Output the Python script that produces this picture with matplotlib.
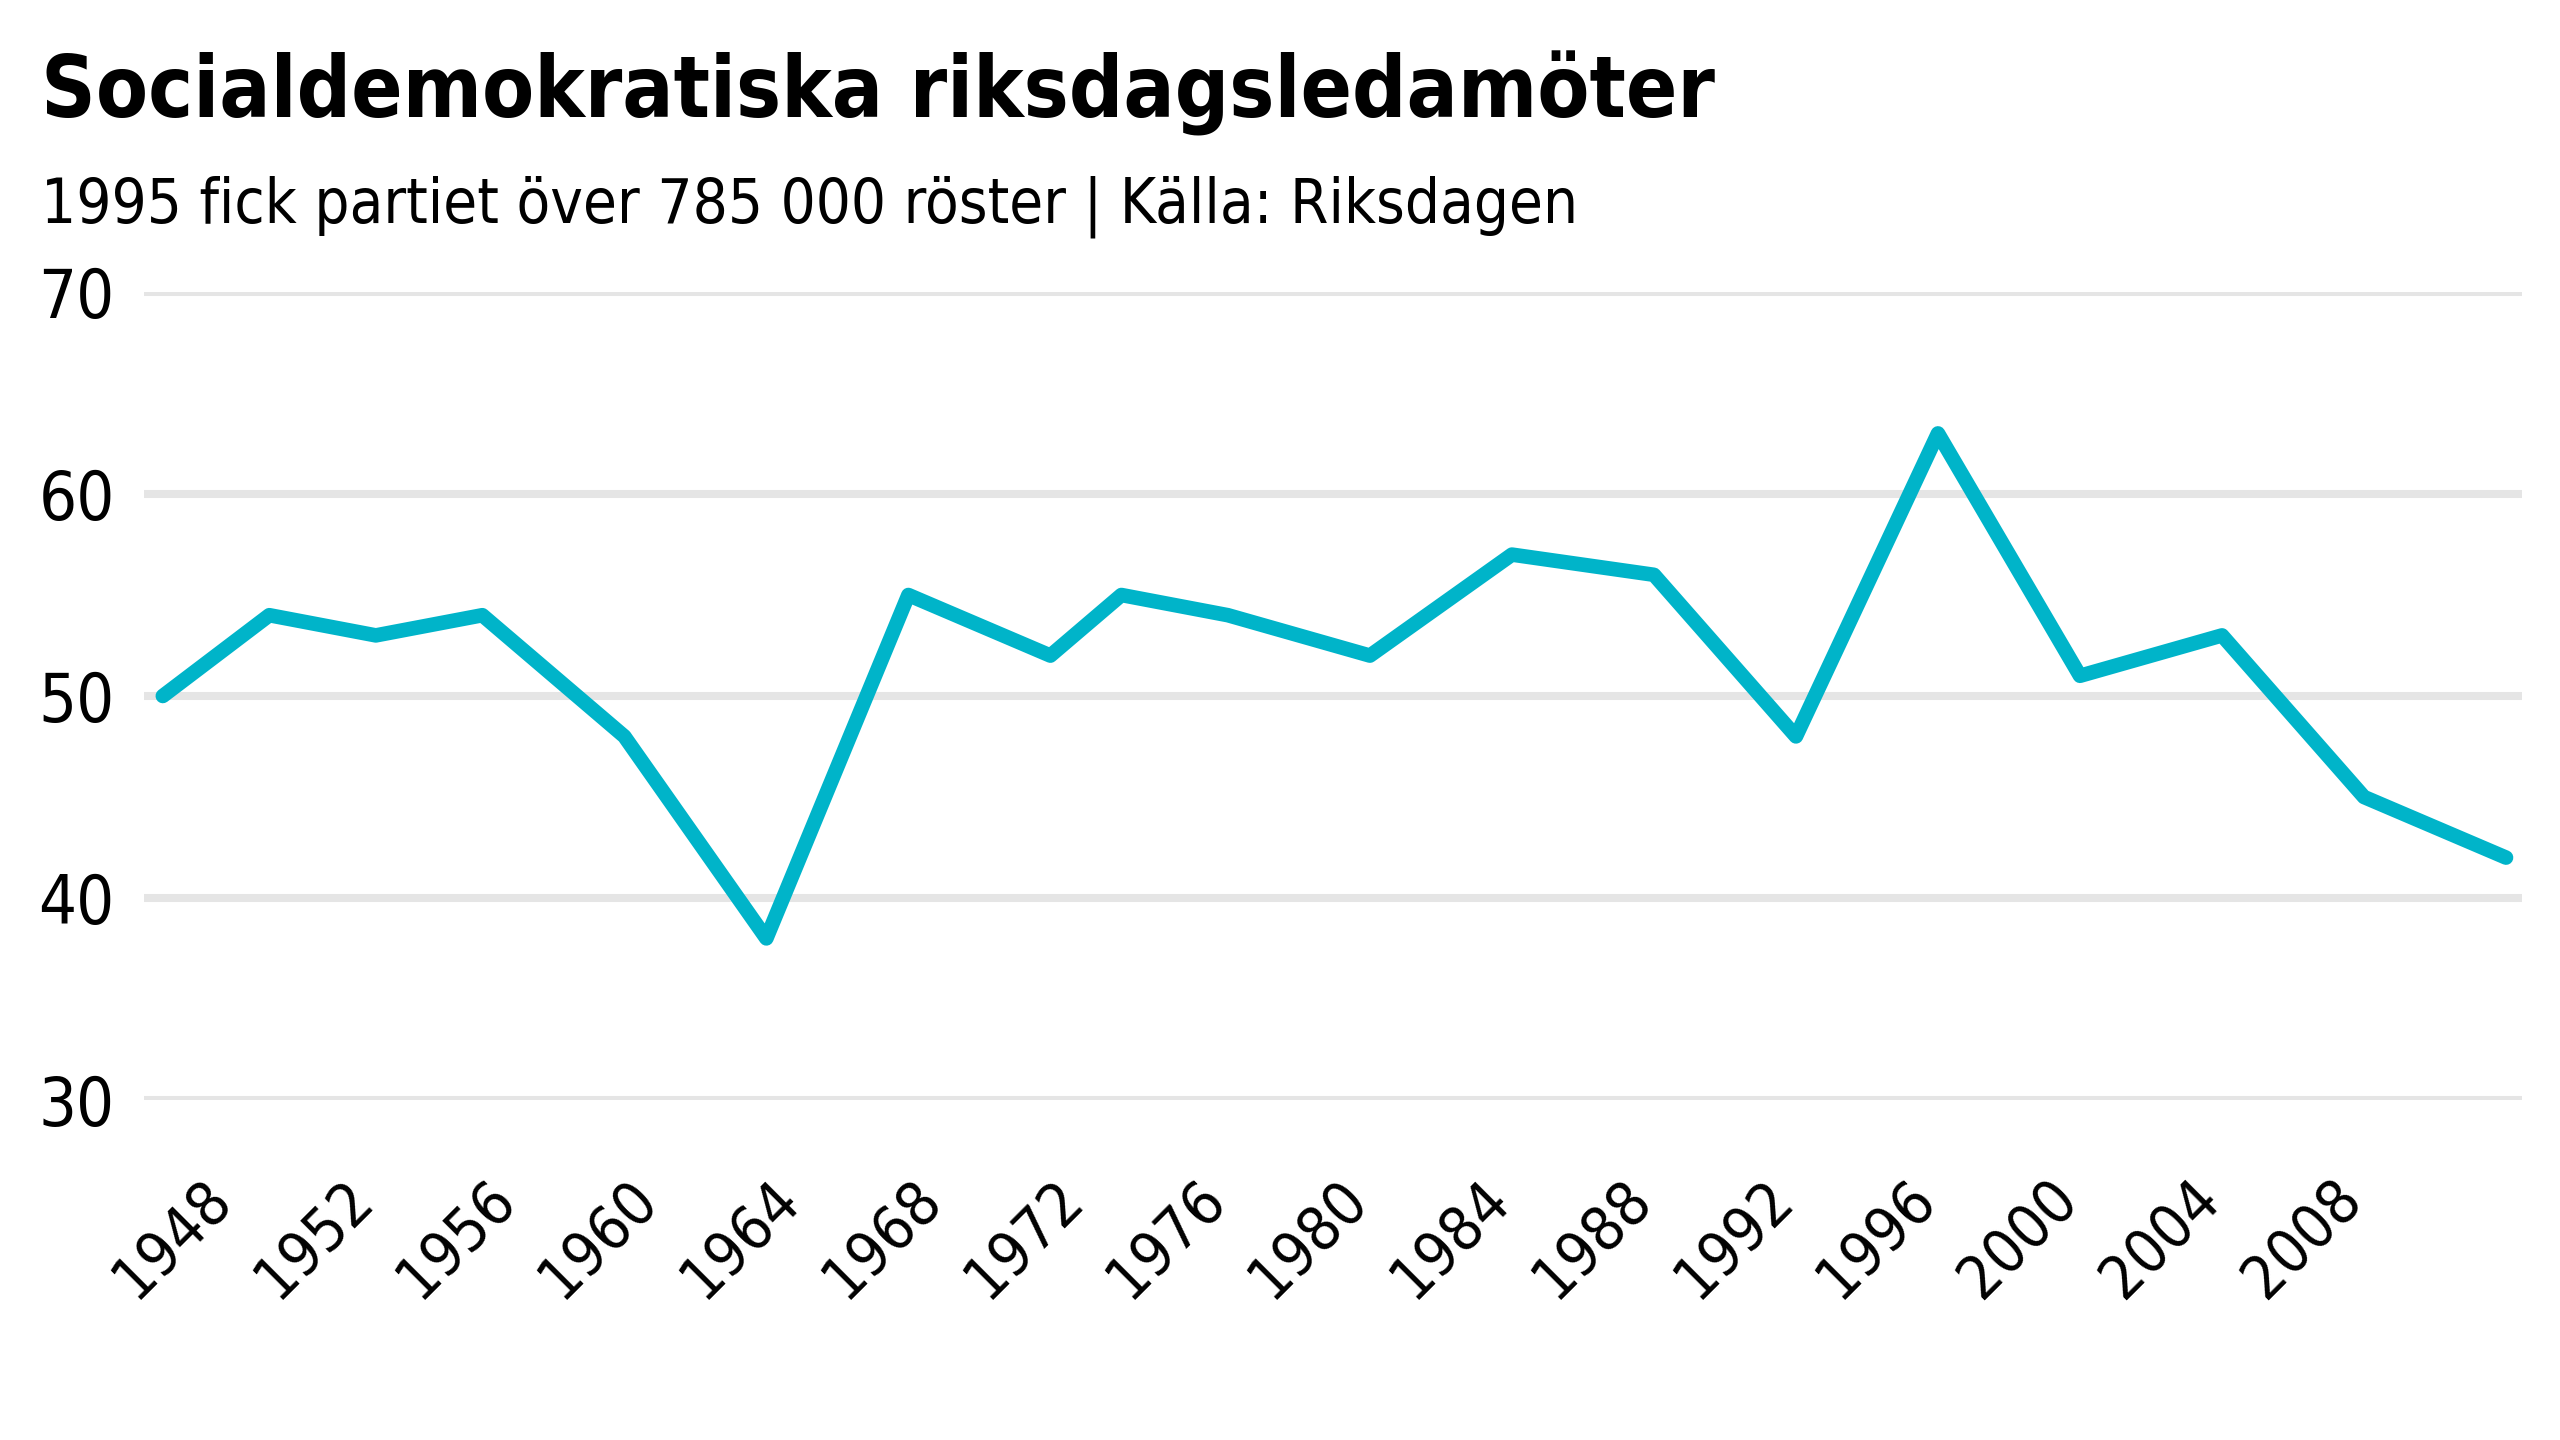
import matplotlib
matplotlib.use("Agg")
import matplotlib.pyplot as plt
import matplotlib.font_manager as fm

years = [1946, 1949, 1952, 1955, 1959, 1963, 1967, 1971, 1973, 1976,
         1980, 1984, 1988, 1992, 1996, 2000, 2004, 2008, 2012]
ledamoter = [50, 54, 53, 54, 48, 38, 55, 52, 55, 54,
             52, 57, 56, 48, 63, 51, 53, 45, 42]

x_ticks = list(range(1948, 2009, 4))
y_ticks = [30, 40, 50, 60, 70]

title = "Socialdemokratiska riksdagsledamöter"
subtitle = "1995 fick partiet över 785 000 röster | Källa: Riksdagen"


# the reference uses a condensed sans; look for one that is installed
def find_font(bold):
    best = None
    for f in fm.fontManager.ttflist:
        name = (f.name + " " + f.fname).lower()
        narrow = f.stretch not in ('normal', 500) or 'condensed' in name or 'narrow' in name
        if not narrow or 'mono' in name or 'serif' in name.replace('sans-serif', ''):
            continue
        if 'italic' in name or f.style != 'normal':
            continue
        if 'extra' in name or 'ultra' in name or 'semi' in name:
            continue
        w = f.weight if isinstance(f.weight, int) else (700 if 'bold' in str(f.weight) else 400)
        score = abs(w - (700 if bold else 400))
        if best is None or score < best[0]:
            best = (score, f.fname)
    if best is not None:
        return fm.FontProperties(fname=best[1])
    return fm.FontProperties(family='Roboto', weight='bold' if bold else 'normal')


fp_reg = find_font(False)
fp_bold = find_font(True)

fig = plt.figure(figsize=(25.6, 14.4), dpi=100)
ax = fig.add_axes([144/2560, 1 - 1100/1440, (2522-144)/2560, (1100-292)/1440])

ax.plot(years, ledamoter, color='#00b4c9', lw=10.5,
        solid_capstyle='round', solid_joinstyle='round', clip_on=False, zorder=3)

ax.set_xlim(1945.47, 2012.45)
ax.set_ylim(30, 70)
ax.set_yticks(y_ticks)
ax.set_yticklabels([str(v) for v in y_ticks], fontproperties=fp_reg, fontsize=48)
ax.set_xticks(x_ticks)
ax.set_xticklabels([str(y) for y in x_ticks], fontproperties=fp_reg, fontsize=44,
                   rotation=45, ha='right', va='baseline', rotation_mode='anchor')

ax.grid(axis='y', color='#e5e5e5', lw=5.8)
ax.set_axisbelow(True)
for s in ax.spines.values():
    s.set_visible(False)

ax.tick_params(axis='y', length=0, pad=21, labelcolor='black')
ax.tick_params(axis='x', length=0, pad=73, labelcolor='black')

t1 = fig.text(41/2560, 1 - 118/1440, title, fontproperties=fp_bold, fontsize=74,
              va='baseline', ha='left')
t2 = fig.text(41/2560, 1 - 222/1440, subtitle, fontproperties=fp_reg, fontsize=51,
              va='baseline', ha='left')

# fit the heading widths to the reference
fig.canvas.draw()
for t, target in [(t1, 1676), (t2, 1539)]:
    w = t.get_window_extent().width
    t.set_fontsize(t.get_fontsize() * target / w)

fig.savefig("out.png", dpi=100, facecolor='white')
